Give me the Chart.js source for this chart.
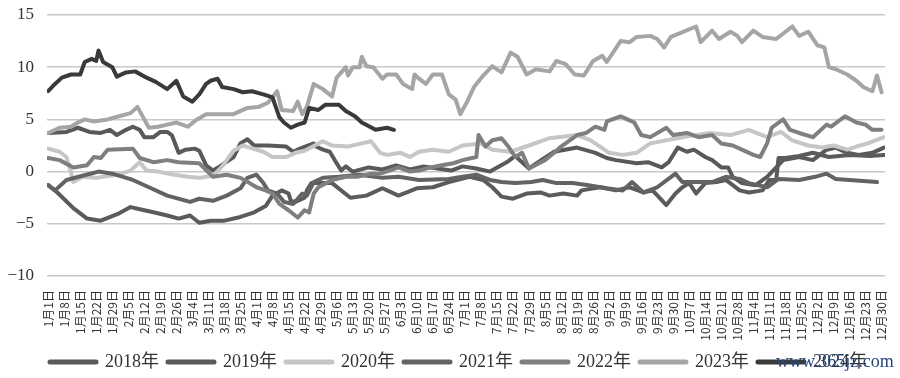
<!DOCTYPE html>
<html>
<head>
<meta charset="utf-8">
<script src="https://cdn.jsdelivr.net/npm/chart.js@4.4.1/dist/chart.umd.min.js"></script>
<style>
html,body{margin:0;padding:0;background:#fff;}
#wrap{width:900px;height:378px;position:relative;}
</style>
</head>
<body>
<div id="wrap"><canvas id="c"></canvas></div>
<script>
// Weekly category tick labels (day 0 = 1月1日, every 7 days)
const weekLabels = ["1月1日","1月8日","1月15日","1月22日","1月29日","2月5日","2月12日","2月19日","2月26日","3月4日","3月11日","3月18日","3月25日","4月1日","4月8日","4月15日","4月22日","4月29日","5月6日","5月13日","5月20日","5月27日","6月3日","6月10日","6月17日","6月24日","7月1日","7月8日","7月15日","7月22日","7月29日","8月5日","8月12日","8月19日","8月26日","9月2日","9月9日","9月16日","9月23日","9月30日","10月7日","10月14日","10月21日","10月28日","11月4日","11月11日","11月18日","11月25日","12月2日","12月9日","12月16日","12月23日","12月30日"];

const seriesNames = ["2018年","2019年","2020年","2021年","2022年","2023年","2024年"];

// [day of year, value]
const s2018 = [[0,3.7],[8,3.8],[13,4.2],[18,3.8],[23,3.7],[27,4.0],[30,3.5],[34,4.0],[37,4.3],[40,4.0],[42,3.3],[46,3.3],[49,3.8],[52,3.8],[54,3.5],[57,1.8],[60,2.1],[64,2.2],[66,2.0],[69,0.6],[72,0.1],[75,0.5],[81,1.4],[84,2.7],[87,3.1],[90,2.5],[96,2.5],[104,2.4],[107,1.9],[110,2.2],[116,2.7],[117,2.4],[120,2.1],[123,1.9],[126,0.8],[128,0.1],[130,0.5],[133,0.0],[140,0.4],[146,0.2],[152,0.6],[158,0.2],[164,0.5],[170,0.3],[176,0.1],[181,0.5],[187,0.3],[193,0.0],[201,1.0],[204,1.5],[210,0.3],[216,1.2],[221,1.9],[231,2.3],[239,1.8],[244,1.3],[248,1.1],[257,0.8],[262,0.9],[268,0.4],[271,0.9],[275,2.3],[279,1.9],[282,2.1],[287,1.4],[290,1.1],[294,0.4],[297,0.4],[299,-0.5],[303,-1.1],[309,-1.3],[314,-0.5],[318,0.4],[321,1.1],[328,1.4],[334,1.1],[340,2.1],[344,2.3],[349,1.8],[354,1.6],[360,1.8],[365,2.3]];

const s2019 = [[0,-1.3],[4,-2.0],[11,-3.5],[17,-4.5],[23,-4.7],[31,-4.0],[36,-3.4],[40,-3.6],[46,-3.9],[52,-4.2],[57,-4.5],[62,-4.2],[66,-4.9],[71,-4.7],[77,-4.7],[83,-4.4],[90,-3.9],[95,-3.3],[98,-2.3],[102,-1.8],[105,-2.1],[106,-2.8],[108,-2.9],[112,-2.5],[113,-1.8],[115,-1.1],[124,-1.1],[132,-2.5],[139,-2.3],[146,-1.6],[153,-2.3],[161,-1.6],[168,-1.5],[175,-1.0],[184,-0.5],[190,-0.8],[194,-1.5],[198,-2.4],[203,-2.6],[209,-2.1],[215,-2.0],[219,-2.3],[225,-2.1],[231,-2.3],[233,-1.8],[241,-1.5],[248,-1.8],[254,-1.5],[260,-2.0],[264,-1.8],[270,-3.2],[274,-2.1],[277,-1.5],[280,-1.1],[283,-2.1],[287,-1.1],[292,-1.0],[296,-0.8],[302,-1.8],[306,-2.0],[312,-1.8],[315,-0.8],[318,-0.8],[319,1.3],[322,1.3],[328,1.5],[334,1.8],[341,1.4],[350,1.6],[359,1.5],[365,1.6]];

const s2020 = [[0,2.2],[5,1.9],[8,1.4],[10,-0.1],[11,-1.0],[15,-0.5],[21,-0.6],[30,-0.3],[36,0.1],[40,0.9],[43,0.1],[48,0.0],[55,-0.3],[61,-0.5],[66,-0.6],[69,-0.5],[72,-0.4],[76,0.5],[81,2.0],[85,2.5],[88,2.3],[94,1.9],[98,1.4],[104,1.4],[108,1.8],[112,2.0],[120,2.9],[124,2.5],[131,2.4],[137,2.7],[141,2.9],[145,1.8],[148,1.6],[154,1.8],[158,1.4],[162,1.9],[168,2.1],[175,1.9],[181,2.5],[189,2.7],[194,2.1],[202,1.9],[210,2.5],[219,3.2],[231,3.5],[237,3.0],[245,1.8],[251,1.6],[257,1.8],[263,2.7],[270,3.0],[280,3.4],[289,3.7],[298,3.5],[306,4.0],[314,3.3],[320,3.8],[325,3.0],[332,2.5],[338,2.3],[343,2.5],[349,2.1],[353,2.4],[358,2.7],[365,3.3]];

const s2021 = [[0,-1.3],[3,-1.8],[8,-0.8],[15,-0.4],[22,0.0],[28,-0.2],[37,-0.8],[44,-1.5],[52,-2.3],[62,-2.9],[66,-2.6],[72,-2.8],[78,-2.3],[84,-1.6],[87,-0.6],[91,-0.3],[94,-1.1],[96,-1.8],[100,-2.1],[103,-2.9],[107,-3.1],[111,-2.1],[113,-2.3],[116,-1.0],[120,-0.6],[127,-0.5],[136,-0.3],[146,-0.6],[153,-0.5],[162,-0.8],[175,-0.7],[181,-0.5],[187,-0.3],[193,-0.8],[198,-1.0],[204,-1.1],[211,-1.0],[216,-0.8],[222,-1.1],[229,-1.1],[236,-1.3],[244,-1.6],[251,-1.8],[255,-1.0],[260,-2.0],[266,-1.5],[274,-0.2],[277,-1.0],[284,-1.0],[290,-1.0],[296,-0.5],[302,-0.7],[306,-1.1],[314,-1.5],[319,-0.7],[328,-0.8],[335,-0.5],[340,-0.2],[344,-0.7],[350,-0.8],[362,-1.0]];

const s2022 = [[0,1.3],[5,1.1],[11,0.4],[17,0.6],[20,1.4],[23,1.3],[26,2.1],[37,2.2],[40,1.3],[46,0.9],[52,1.1],[57,0.9],[66,0.8],[72,-0.5],[78,-0.3],[84,-0.6],[88,-1.1],[91,-1.5],[95,-1.8],[98,-2.1],[101,-3.1],[105,-3.7],[109,-4.4],[112,-3.7],[114,-3.9],[116,-2.1],[118,-1.5],[124,-0.8],[130,-0.5],[135,-0.5],[141,-0.2],[145,-0.2],[149,0.1],[153,0.4],[158,0.0],[162,0.1],[167,0.4],[172,0.6],[177,0.8],[181,1.1],[187,1.4],[188,3.5],[191,2.4],[194,3.0],[198,3.2],[201,2.4],[204,1.4],[207,1.8],[210,0.3],[217,1.1],[221,1.8],[224,2.4],[231,3.5],[235,3.7],[239,4.3],[243,4.0],[244,4.8],[250,5.3],[253,5.0],[256,4.7],[259,3.5],[263,3.3],[270,4.2],[273,3.5],[279,3.7],[284,3.3],[290,3.5],[294,2.7],[299,2.5],[303,2.1],[308,1.6],[311,1.4],[314,2.7],[316,4.2],[321,5.0],[324,4.0],[328,3.7],[334,3.3],[340,4.5],[342,4.3],[348,5.3],[353,4.7],[357,4.5],[360,4.0],[364,4.0]];

const s2023 = [[0,3.7],[5,4.2],[10,4.3],[13,4.7],[16,5.0],[20,4.8],[26,5.0],[31,5.3],[36,5.6],[39,6.2],[42,5.0],[44,4.2],[48,4.3],[52,4.5],[56,4.7],[61,4.3],[65,5.0],[69,5.5],[72,5.5],[81,5.5],[87,6.1],[92,6.2],[96,6.6],[100,7.7],[102,5.9],[107,5.8],[109,6.7],[111,5.5],[113,6.2],[116,8.4],[120,7.9],[124,7.2],[126,9.0],[130,10.0],[131,9.2],[133,10.0],[136,10.0],[137,11.0],[139,10.1],[142,10.0],[146,8.9],[148,9.3],[152,9.3],[155,8.4],[159,7.9],[160,9.3],[162,8.9],[165,8.4],[168,9.3],[172,9.3],[175,7.4],[178,6.9],[180,5.5],[183,6.7],[186,8.1],[190,9.2],[194,10.1],[198,9.5],[202,11.4],[205,11.0],[209,9.3],[213,9.8],[219,9.6],[222,10.6],[226,10.3],[230,9.3],[234,9.2],[238,10.6],[242,11.1],[244,10.5],[247,11.5],[250,12.5],[254,12.4],[257,12.9],[263,13.0],[266,12.7],[269,11.9],[272,12.9],[283,13.9],[285,12.4],[290,13.5],[293,12.7],[298,13.4],[301,13.0],[303,12.4],[308,13.5],[312,12.9],[318,12.7],[325,13.9],[328,13.0],[332,13.4],[336,12.1],[339,11.9],[341,10.0],[344,9.8],[349,9.3],[353,8.7],[356,8.1],[360,7.7],[362,9.2],[364,7.6]];

const s2024 = [[0,7.7],[3,8.4],[6,9.0],[10,9.3],[14,9.3],[16,10.5],[19,10.8],[21,10.6],[22,11.6],[24,10.5],[28,10.0],[30,9.1],[34,9.5],[38,9.6],[43,9.0],[47,8.6],[52,7.9],[56,8.7],[59,7.2],[63,6.7],[66,7.4],[69,8.4],[71,8.7],[74,8.9],[76,8.1],[81,7.9],[85,7.6],[89,7.7],[94,7.4],[98,7.1],[101,5.2],[103,4.7],[106,4.2],[109,4.5],[112,4.7],[114,6.1],[118,5.9],[121,6.4],[127,6.4],[130,5.8],[134,5.3],[137,4.7],[143,4.0],[148,4.2],[151,4.0]];

const seriesData = [s2018, s2019, s2020, s2021, s2022, s2023, s2024];
const seriesColors = ["#595959","#5b5b5b","#c6c6c6","#636363","#7f7f7f","#a5a5a5","#3a3a3a"];

const datasets = seriesNames.map((name, i) => ({
  label: name,
  data: seriesData[i].map(p => ({x: p[0], y: p[1]})),
  borderColor: seriesColors[i],
  backgroundColor: seriesColors[i],
  borderWidth: 4,
  pointRadius: 0,
  tension: 0,
  borderJoinStyle: 'round',
  borderCapStyle: 'round',
  order: seriesNames.length - i
}));

const serif = '"Liberation Serif", "Noto Sans CJK SC", serif';

const legendShift = {
  id: 'legendShift',
  afterLayout(chart) {
    const lg = chart.legend;
    if (!lg) return;
    lg.left += 16; lg.right += 16;
    lg.top += 3; lg.bottom += 3;
  }
};

const watermark = {
  id: 'watermark',
  afterDraw(chart) {
    const ctx = chart.ctx;
    ctx.save();
    ctx.font = '18px ' + serif;
    ctx.fillStyle = '#26457f';
    ctx.textBaseline = 'middle';
    ctx.fillText('www.365jz.com', 776, 362);
    ctx.restore();
  }
};

new Chart(document.getElementById('c'), {
  type: 'line',
  data: { datasets },
  options: {
    responsive: true,
    maintainAspectRatio: false,
    animation: false,
    layout: { padding: { left: 0, right: 15, top: 15, bottom: 0 } },
    plugins: {
      tooltip: { enabled: false },
      legend: {
        position: 'bottom',
        labels: {
          usePointStyle: true,
          pointStyle: 'line',
          pointStyleWidth: 46,
          boxHeight: 18,
          padding: 9,
          color: '#333',
          font: { size: 18, family: serif },
          sort: (a, b) => a.datasetIndex - b.datasetIndex,
          generateLabels(chart) {
            const items = Chart.defaults.plugins.legend.labels.generateLabels(chart);
            items.forEach(it => { it.lineWidth = 5; it.lineCap = 'round'; });
            return items;
          }
        }
      }
    },
    scales: {
      x: {
        type: 'linear',
        min: -0.5,
        max: 365.5,
        grid: { display: false },
        border: { display: false },
        afterFit(scale) { scale.height = 65; scale.paddingLeft = 0; scale.paddingRight = 0; },
        afterBuildTicks(scale) {
          scale.ticks = weekLabels.map((_, i) => ({ value: i * 7 }));
        },
        ticks: {
          autoSkip: false,
          minRotation: 90,
          maxRotation: 90,
          padding: 6,
          color: '#333',
          font: { size: 12, family: '"Noto Sans CJK SC", sans-serif' },
          callback: (v, i) => weekLabels[i]
        }
      },
      y: {
        min: -10,
        max: 15,
        afterFit(scale) { scale.width = 47; scale.paddingTop = 0; scale.paddingBottom = 0; },
        border: { display: false },
        grid: { color: '#c8c8c8', lineWidth: 1.6, drawTicks: false },
        ticks: {
          stepSize: 5,
          padding: 13,
          color: '#333',
          font: { size: 17, family: serif },
          callback: v => String(v).replace('-', '\u2212')
        }
      }
    }
  },
  plugins: [legendShift, watermark]
});
</script>
</body>
</html>
